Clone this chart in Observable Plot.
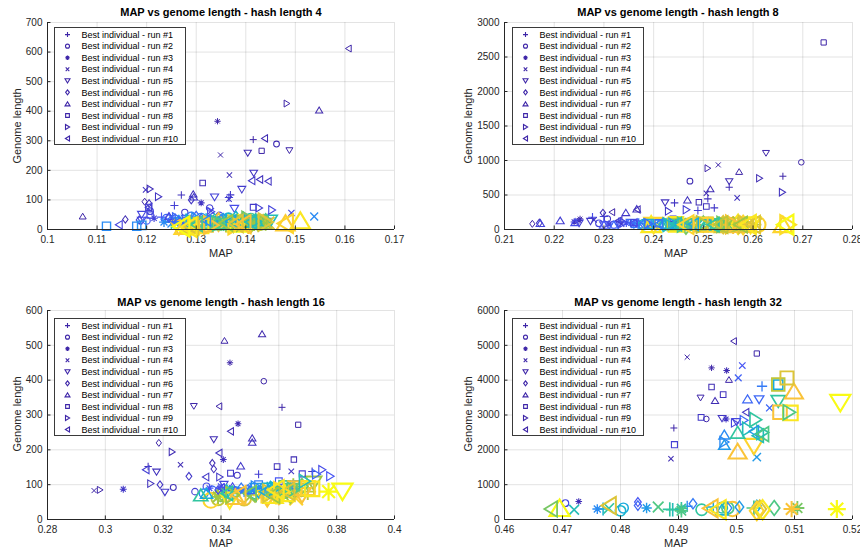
<!DOCTYPE html>
<html><head><meta charset="utf-8">
<script src="https://cdn.jsdelivr.net/npm/d3@7"></script>
<script src="https://cdn.jsdelivr.net/npm/@observablehq/plot@0.6"></script>
<style>
body{margin:0;background:#fff;}
#root{position:relative;width:860px;height:552px;overflow:hidden;font-family:"Liberation Sans",Arial,sans-serif;color:#262626;background:#fff;}
.panel{position:absolute;}
.t{position:absolute;transform:translate(-50%,-50%);white-space:nowrap;line-height:1;}
.title{font-weight:bold;font-size:11px;color:#000;}
.xl{font-size:11px;}
.yl{font-size:11px;transform:translate(-50%,-50%) rotate(-90deg);}
.leg{position:absolute;}
</style></head><body><div id="root"></div><script>
// ---------- data: [MAP, genome length, generation fraction] ----------
const titles = ["MAP vs genome length - hash length 4","MAP vs genome length - hash length 8","MAP vs genome length - hash length 16","MAP vs genome length - hash length 32"];
const legendLabels = ["Best individual - run #1","Best individual - run #2","Best individual - run #3","Best individual - run #4","Best individual - run #5","Best individual - run #6","Best individual - run #7","Best individual - run #8","Best individual - run #9","Best individual - run #10"];
const xTicks4 = [0.1,0.11,0.12,0.13,0.14,0.15,0.16,0.17];
const yTicks4 = [0,100,200,300,400,500,600,700];
const xTicks8 = [0.21,0.22,0.23,0.24,0.25,0.26,0.27,0.28];
const yTicks8 = [0,500,1000,1500,2000,2500,3000];
const xTicks16 = [0.28,0.3,0.32,0.34,0.36,0.38,0.4];
const yTicks16 = [0,100,200,300,400,500,600];
const xTicks32 = [0.46,0.47,0.48,0.49,0.5,0.51,0.52];
const yTicks32 = [0,1000,2000,3000,4000,5000,6000];

const h4_r1 = [[0.1415,304,0.0],[0.1270,117,0.04],[0.1256,81,0.08],[0.1369,117,0.06],[0.1366,108,0.1],[0.1230,42,0.15],[0.1445,38,0.2],[0.1300,30,0.3],[0.1280,35,0.35],[0.1335,28,0.4],[0.1395,40,0.45],[0.1385,22,0.5],[0.1250,25,0.55],[0.1420,30,0.65],[0.1330,20,0.7],[0.1360,18,0.75],[0.1405,15,0.85],[0.1290,12,0.95]];
const h4_r2 = [[0.1462,289,0.02],[0.1277,58,0.06],[0.1327,73,0.08],[0.1207,62,0.1],[0.1347,47,0.12],[0.1200,30,0.15],[0.1240,38,0.2],[0.1290,45,0.25],[0.1310,40,0.3],[0.1380,30,0.4],[0.1365,38,0.45],[0.1260,22,0.5],[0.1410,35,0.55],[0.1350,25,0.6],[0.1430,20,0.7],[0.1395,28,0.8],[0.1320,18,0.9]];
const h4_r3 = [[0.1343,366,0.0],[0.1310,90,0.05],[0.1215,38,0.1],[0.1255,30,0.2],[0.1265,28,0.25],[0.1235,25,0.3],[0.1280,20,0.4],[0.1320,35,0.45],[0.1340,30,0.5],[0.1400,25,0.6],[0.1425,30,0.65],[0.1440,20,0.7],[0.1300,15,0.8],[0.1375,18,0.9]];
const h4_r4 = [[0.1349,252,0.0],[0.1367,184,0.03],[0.1366,103,0.06],[0.1198,134,0.05],[0.1492,56,0.12],[0.1330,62,0.1],[0.1270,30,0.2],[0.1250,20,0.3],[0.1538,44,0.3],[0.1320,25,0.35],[0.1390,35,0.45],[0.1345,38,0.5],[0.1410,20,0.55],[0.1360,15,0.65],[0.1420,28,0.7],[0.1445,22,0.8],[0.1295,18,0.9]];
const h4_r5 = [[0.1488,267,0.0],[0.1404,258,0.02],[0.1416,190,0.05],[0.1392,135,0.07],[0.1337,109,0.09],[0.1377,70,0.12],[0.1190,50,0.1],[0.1190,30,0.12],[0.1280,35,0.2],[0.1325,28,0.3],[0.1400,30,0.4],[0.1310,25,0.45],[0.1450,30,0.5],[0.1355,20,0.55],[0.1425,25,0.65],[0.1375,15,0.75],[0.1265,8,0.85],[0.1305,10,0.95]];
const h4_r6 = [[0.1196,94,0.0],[0.1157,34,0.02],[0.1205,88,0.04],[0.1290,100,0.05],[0.1185,32,0.08],[0.1245,40,0.15],[0.1300,45,0.2],[0.1355,35,0.3],[0.1265,28,0.35],[0.1395,30,0.4],[0.1380,40,0.45],[0.1330,22,0.5],[0.1440,28,0.6],[0.1425,22,0.7],[0.1410,18,0.75],[0.1345,25,0.85]];
const h4_r7 = [[0.1071,45,0.0],[0.1548,404,0.01],[0.1294,120,0.04],[0.1295,110,0.06],[0.1245,45,0.1],[0.1310,40,0.2],[0.1350,35,0.3],[0.1380,28,0.4],[0.1420,32,0.5],[0.1360,22,0.6],[0.1330,25,0.6],[0.1400,20,0.7],[0.1435,25,0.75],[0.1290,15,0.8],[0.1480,22,0.88],[0.1275,10,0.9],[0.1510,30,0.95],[0.1385,20,1.0]];
const h4_r8 = [[0.1432,266,0.0],[0.1313,157,0.03],[0.1415,75,0.06],[0.1204,75,0.08],[0.1207,49,0.1],[0.1280,30,0.2],[0.1119,11,0.3],[0.1180,11,0.3],[0.1190,14,0.32],[0.1330,28,0.4],[0.1400,25,0.5],[0.1370,30,0.55],[0.1350,18,0.6],[0.1430,22,0.7],[0.1300,18,0.75],[0.1320,15,0.85],[0.1310,12,0.95]];
const h4_r9 = [[0.1483,426,0.0],[0.1207,137,0.03],[0.1224,111,0.05],[0.1427,73,0.08],[0.1453,66,0.1],[0.1330,60,0.12],[0.1260,40,0.2],[0.1300,38,0.3],[0.1370,30,0.4],[0.1290,28,0.45],[0.1420,28,0.5],[0.1345,20,0.6],[0.1405,35,0.65],[0.1395,22,0.7],[0.1440,25,0.8],[0.1330,15,0.85],[0.1380,15,0.9]];
const h4_r10 = [[0.1607,612,0.0],[0.1438,308,0.02],[0.1428,169,0.04],[0.1445,163,0.05],[0.1412,165,0.06],[0.1204,75,0.08],[0.1144,16,0.1],[0.1250,35,0.2],[0.1320,30,0.3],[0.1370,28,0.4],[0.1410,25,0.5],[0.1300,18,0.6],[0.1360,22,0.7],[0.1380,20,0.8],[0.1290,12,0.8],[0.1395,18,0.85],[0.1480,20,0.9],[0.1285,8,0.95],[0.1270,10,1.0]];

const h8_r1 = [[0.2660,772,0.0],[0.2552,613,0.02],[0.2509,444,0.04],[0.2522,313,0.06],[0.2489,275,0.08],[0.2442,386,0.05],[0.2300,188,0.1],[0.2277,178,0.12],[0.2330,110,0.15],[0.2370,90,0.25],[0.2400,85,0.3],[0.2450,80,0.4],[0.2520,75,0.55],[0.2540,80,0.6],[0.2480,70,0.7],[0.2600,70,0.75],[0.2560,65,0.85]];
const h8_r2 = [[0.2697,974,0.0],[0.2473,700,0.02],[0.2307,154,0.06],[0.2290,90,0.1],[0.2320,70,0.15],[0.2360,85,0.25],[0.2420,75,0.35],[0.2380,70,0.45],[0.2500,70,0.5],[0.2460,65,0.65],[0.2555,65,0.7],[0.2540,72,0.8],[0.2610,70,0.9]];
const h8_r3 = [[0.2252,154,0.0],[0.2250,130,0.03],[0.2240,110,0.05],[0.2310,80,0.1],[0.2345,95,0.15],[0.2360,80,0.25],[0.2390,80,0.3],[0.2440,70,0.45],[0.2450,75,0.55],[0.2510,75,0.6],[0.2470,68,0.75],[0.2530,70,0.8],[0.2580,70,0.9]];
const h8_r4 = [[0.2530,936,0.0],[0.2506,526,0.02],[0.2568,458,0.04],[0.2280,140,0.06],[0.2335,80,0.1],[0.2375,95,0.2],[0.2395,90,0.3],[0.2430,75,0.35],[0.2490,80,0.5],[0.2470,65,0.6],[0.2550,70,0.65],[0.2605,75,0.8],[0.2580,80,0.9]];
const h8_r5 = [[0.2626,1105,0.0],[0.2552,695,0.02],[0.2423,386,0.04],[0.2273,116,0.06],[0.2250,90,0.08],[0.2300,60,0.12],[0.2355,90,0.2],[0.2400,75,0.3],[0.2455,70,0.45],[0.2430,70,0.55],[0.2520,68,0.6],[0.2570,72,0.75],[0.2500,75,0.8],[0.2400,60,0.9],[0.2595,65,0.95]];
const h8_r6 = [[0.2156,82,0.0],[0.2298,241,0.02],[0.2170,95,0.04],[0.2330,85,0.1],[0.2380,80,0.2],[0.2460,60,0.35],[0.2420,70,0.45],[0.2510,70,0.5],[0.2465,45,0.65],[0.2500,80,0.65],[0.2540,70,0.8],[0.2580,65,0.9],[0.2570,75,0.95]];
const h8_r7 = [[0.2572,839,0.0],[0.2514,589,0.02],[0.2468,429,0.04],[0.2344,246,0.06],[0.2366,299,0.05],[0.2212,130,0.08],[0.2172,92,0.1],[0.2242,106,0.12],[0.2300,70,0.15],[0.2320,60,0.2],[0.2380,85,0.3],[0.2420,70,0.4],[0.2450,85,0.45],[0.2505,68,0.55],[0.2560,72,0.7],[0.2540,60,0.8],[0.2575,70,0.85],[0.2660,70,0.9],[0.2395,75,0.95]];
const h8_r8 = [[0.2742,2711,0.0],[0.2491,396,0.02],[0.2506,333,0.04],[0.2439,154,0.06],[0.2360,100,0.1],[0.2410,90,0.2],[0.2470,80,0.3],[0.2390,80,0.4],[0.2520,65,0.45],[0.2480,72,0.6],[0.2440,72,0.7],[0.2550,70,0.75],[0.2495,70,0.85],[0.2505,68,0.9],[0.2445,75,0.95]];
const h8_r9 = [[0.2509,888,0.0],[0.2613,743,0.02],[0.2659,540,0.04],[0.2430,265,0.06],[0.2466,285,0.08],[0.2340,100,0.12],[0.2390,85,0.2],[0.2440,80,0.35],[0.2430,70,0.5],[0.2460,70,0.6],[0.2540,75,0.65],[0.2500,72,0.75],[0.2585,70,0.8],[0.2560,75,0.85],[0.2670,70,0.92]];
const h8_r10 = [[0.2316,251,0.0],[0.2367,289,0.02],[0.2330,130,0.06],[0.2360,95,0.12],[0.2410,80,0.25],[0.2480,75,0.4],[0.2445,78,0.5],[0.2520,70,0.55],[0.2575,70,0.7],[0.2535,70,0.75],[0.2600,72,0.8],[0.2465,70,0.9],[0.2590,72,0.95],[0.2665,68,1.0]];

const h16_r1 = [[0.3611,322,0.0],[0.3148,152,0.03],[0.3715,138,0.06],[0.3530,130,0.08],[0.3400,90,0.15],[0.3480,80,0.3],[0.3560,90,0.45],[0.3440,75,0.55],[0.3620,85,0.6],[0.3650,95,0.7],[0.3700,80,0.75],[0.3590,70,0.9]];
const h16_r2 = [[0.3548,397,0.0],[0.3235,92,0.03],[0.3456,127,0.05],[0.3310,80,0.08],[0.3350,95,0.12],[0.3370,85,0.2],[0.3340,75,0.3],[0.3450,80,0.4],[0.3520,75,0.55],[0.3400,70,0.65],[0.3390,60,0.75],[0.3480,60,0.8],[0.3365,55,0.9]];
const h16_r3 = [[0.3431,450,0.0],[0.3459,275,0.02],[0.3408,172,0.04],[0.3062,87,0.06],[0.3360,90,0.15],[0.3430,85,0.3],[0.3500,80,0.45],[0.3580,75,0.6],[0.3390,65,0.7],[0.3660,80,0.8],[0.3540,70,0.9],[0.3772,80,1.0]];
const h16_r4 = [[0.2961,83,0.0],[0.3260,157,0.02],[0.3643,138,0.05],[0.3400,95,0.12],[0.3470,80,0.25],[0.3550,85,0.4],[0.3420,70,0.45],[0.3610,75,0.55],[0.3500,65,0.7],[0.3580,60,0.85],[0.3660,60,0.9]];
const h16_r5 = [[0.3306,325,0.0],[0.3375,229,0.02],[0.3177,136,0.04],[0.3206,78,0.06],[0.3410,100,0.1],[0.3460,80,0.2],[0.3520,90,0.35],[0.3590,75,0.5],[0.3650,85,0.6],[0.3720,105,0.7],[0.3680,70,0.85],[0.3560,60,0.9],[0.3430,55,0.95],[0.3820,80,1.0]];
const h16_r6 = [[0.3185,220,0.0],[0.3370,162,0.02],[0.3375,145,0.03],[0.3189,100,0.05],[0.3289,124,0.06],[0.3390,85,0.12],[0.3470,90,0.25],[0.3530,80,0.4],[0.3420,80,0.5],[0.3600,85,0.55],[0.3680,95,0.65],[0.3640,70,0.7],[0.3560,65,0.85]];
const h16_r7 = [[0.3412,514,0.0],[0.3542,533,0.01],[0.3508,234,0.03],[0.3508,222,0.04],[0.3468,154,0.06],[0.3440,95,0.12],[0.3500,85,0.2],[0.3570,95,0.35],[0.3350,75,0.4],[0.3330,70,0.55],[0.3600,80,0.7],[0.3450,65,0.85],[0.3620,75,0.95],[0.3580,70,0.95]];
const h16_r8 = [[0.3667,272,0.0],[0.3652,172,0.02],[0.3594,152,0.04],[0.3433,133,0.06],[0.3681,131,0.08],[0.3600,110,0.15],[0.3530,100,0.25],[0.3660,100,0.3],[0.3560,90,0.45],[0.3620,95,0.6],[0.3700,85,0.75],[0.3655,90,0.85],[0.3700,90,0.9],[0.3715,88,0.95]];
const h16_r9 = [[0.2982,85,0.0],[0.3231,194,0.02],[0.3157,103,0.04],[0.3396,122,0.06],[0.3750,143,0.12],[0.3778,124,0.15],[0.3730,130,0.2],[0.3520,95,0.3],[0.3590,90,0.45],[0.3690,110,0.5],[0.3650,85,0.6],[0.3440,70,0.7],[0.3570,75,0.8],[0.3610,80,0.92]];
const h16_r10 = [[0.3393,325,0.0],[0.3433,253,0.02],[0.3393,191,0.04],[0.3347,122,0.06],[0.3140,143,0.08],[0.3400,90,0.12],[0.3480,85,0.25],[0.3550,80,0.4],[0.3420,75,0.55],[0.3500,75,0.65],[0.3580,70,0.7],[0.3630,80,0.8],[0.3460,70,0.85],[0.3590,85,0.95]];

const h32_r1 = [[0.4892,2627,0.0],[0.5044,3825,0.25],[0.4915,380,0.3],[0.4960,360,0.4],[0.4770,300,0.45],[0.4890,280,0.5],[0.4885,290,0.55],[0.5030,330,0.6]];
const h32_r2 = [[0.4948,2886,0.0],[0.4705,470,0.1],[0.4805,330,0.4],[0.4800,250,0.45],[0.4975,340,0.5],[0.4940,280,0.55],[0.4985,330,0.6],[0.4993,300,0.85]];
const h32_r3 = [[0.4957,4353,0.0],[0.4983,4276,0.02],[0.4728,518,0.03],[0.4982,2886,0.05],[0.4760,300,0.3],[0.4845,330,0.35],[0.4905,320,0.55],[0.4905,250,0.6],[0.5105,330,0.65],[0.5095,300,0.85],[0.5173,300,1.0]];
const h32_r4 = [[0.4915,4660,0.0],[0.4887,1745,0.02],[0.5010,4420,0.15],[0.5003,4065,0.18],[0.5057,3202,0.2],[0.5035,1793,0.35],[0.4720,280,0.5],[0.4780,320,0.55],[0.4865,360,0.6]];
const h32_r5 = [[0.4938,3490,0.0],[0.4975,2900,0.05],[0.5000,2800,0.1],[0.5039,3442,0.2],[0.5072,3394,0.55],[0.5030,2100,0.9],[0.5179,3346,1.0]];
const h32_r6 = [[0.4830,500,0.15],[0.4830,400,0.2],[0.4925,450,0.25],[0.4985,330,0.3],[0.5005,360,0.35],[0.5035,380,0.4],[0.5065,330,0.6],[0.5040,300,0.8],[0.5035,250,0.9],[0.5045,280,0.95]];
const h32_r7 = [[0.4987,4017,0.0],[0.4963,3413,0.02],[0.5019,3461,0.2],[0.4979,2435,0.3],[0.4979,2148,0.35],[0.4975,280,0.45],[0.5002,2500,0.55],[0.5002,1956,0.85],[0.5099,3682,0.85],[0.4695,330,1.0]];
const h32_r8 = [[0.5035,4765,0.0],[0.4957,3806,0.02],[0.4977,3586,0.04],[0.4939,2933,0.06],[0.4893,2148,0.08],[0.5072,3873,0.4],[0.5072,3873,0.75],[0.5087,4065,0.8],[0.5075,3078,0.85],[0.5093,3059,0.95]];
const h32_r9 = [[0.4997,2771,0.1],[0.5013,2848,0.2],[0.4979,2224,0.3],[0.5020,2600,0.5],[0.5033,2867,0.55],[0.5045,2500,0.55],[0.5091,3078,0.6]];
const h32_r10 = [[0.4995,5120,0.0],[0.5016,3078,0.05],[0.5030,2531,0.35],[0.5037,2407,0.5],[0.5045,2450,0.6],[0.4680,300,0.65],[0.4780,400,0.8],[0.4955,320,0.85],[0.4968,280,0.95]];

// ---------- style ----------
const parula = ["#3E26A8","#4852F4","#2D87F7","#12B1D6","#37C897","#ABC739","#FEC338","#F9FB15"];
const ink = "#262626";

const sym = fn => ({draw(ctx, size){ const r = Math.sqrt(size/Math.PI); fn(ctx, r); }});
const shapes = [
  sym((c,r)=>{c.moveTo(-r,0);c.lineTo(r,0);c.moveTo(0,-r);c.lineTo(0,r);}),
  sym((c,r)=>{const a=0.8*r;c.moveTo(a,0);c.arc(0,0,a,0,2*Math.PI);}),
  sym((c,r)=>{const a=0.9*r,b=a*Math.SQRT1_2;c.moveTo(-a,0);c.lineTo(a,0);c.moveTo(0,-a);c.lineTo(0,a);c.moveTo(-b,-b);c.lineTo(b,b);c.moveTo(-b,b);c.lineTo(b,-b);}),
  sym((c,r)=>{const k=0.72*r;c.moveTo(-k,-k);c.lineTo(k,k);c.moveTo(-k,k);c.lineTo(k,-k);}),
  sym((c,r)=>{c.moveTo(-r,-0.8*r);c.lineTo(r,-0.8*r);c.lineTo(0,0.85*r);c.closePath();}),
  sym((c,r)=>{c.moveTo(0,-r);c.lineTo(0.75*r,0);c.lineTo(0,r);c.lineTo(-0.75*r,0);c.closePath();}),
  sym((c,r)=>{c.moveTo(0,-0.85*r);c.lineTo(r,0.8*r);c.lineTo(-r,0.8*r);c.closePath();}),
  sym((c,r)=>{const s=0.75*r;c.moveTo(-s,-s);c.lineTo(s,-s);c.lineTo(s,s);c.lineTo(-s,s);c.closePath();}),
  sym((c,r)=>{c.moveTo(-0.8*r,-r);c.lineTo(0.85*r,0);c.lineTo(-0.8*r,r);c.closePath();}),
  sym((c,r)=>{c.moveTo(0.8*r,-r);c.lineTo(-0.85*r,0);c.lineTo(0.8*r,r);c.closePath();})
];

const panels = [
  {left:0,top:0,ml:47,mr:36,mt:22,mb:47,xd:[0.1,0.17],yd:[0,700],xt:xTicks4,yt:yTicks4,
   runs:[h4_r1,h4_r2,h4_r3,h4_r4,h4_r5,h4_r6,h4_r7,h4_r8,h4_r9,h4_r10],title:titles[0],
   tp:[221,12],xp:[221,253],yp:[17,126],lg:[54,27]},
  {left:430,top:0,ml:74,mr:8,mt:22,mb:47,xd:[0.21,0.28],yd:[0,3000],xt:xTicks8,yt:yTicks8,
   runs:[h8_r1,h8_r2,h8_r3,h8_r4,h8_r5,h8_r6,h8_r7,h8_r8,h8_r9,h8_r10],title:titles[1],
   tp:[678,12],xp:[676,253],yp:[468,126],lg:[512,27]},
  {left:0,top:276,ml:47,mr:36,mt:34,mb:33,xd:[0.28,0.4],yd:[0,600],xt:xTicks16,yt:yTicks16,
   runs:[h16_r1,h16_r2,h16_r3,h16_r4,h16_r5,h16_r6,h16_r7,h16_r8,h16_r9,h16_r10],title:titles[2],
   tp:[221,302],xp:[221,543],yp:[17,414],lg:[54,318]},
  {left:430,top:276,ml:74,mr:8,mt:34,mb:33,xd:[0.46,0.52],yd:[0,6000],xt:xTicks32,yt:yTicks32,
   runs:[h32_r1,h32_r2,h32_r3,h32_r4,h32_r5,h32_r6,h32_r7,h32_r8,h32_r9,h32_r10],title:titles[3],
   tp:[678,302],xp:[676,543],yp:[468,414],lg:[512,318]}
];

const root = document.getElementById("root");
const fmtX = d => String(+d.toFixed(2));

for (const p of panels) {
  const [x0,x1] = p.xd, [y0,y1] = p.yd;
  const marks = [
    Plot.gridX(p.xt, {stroke: ink, strokeOpacity: 0.13, strokeWidth: 1}),
    Plot.gridY(p.yt, {stroke: ink, strokeOpacity: 0.13, strokeWidth: 1}),
    Plot.axisX(p.xt, {tickSize: 0, tickPadding: 6, tickFormat: fmtX, label: null, fill: ink}),
    Plot.axisY(p.yt, {tickSize: 0, tickPadding: 5, tickFormat: d => String(d), label: null, fill: ink}),
  ];
  p.runs.forEach((data, k) => {
    marks.push(Plot.dot(data, {
      x: d => d[0], y: d => d[1], r: d => d[2], stroke: d => d[2],
      strokeWidth: d => 1 + 1.2*d[2], fill: "none", symbol: shapes[k], sort: null
    }));
  });
  marks.push(
    Plot.ruleX(p.xt, {y1: y0, y2: y0 + (y1-y0)*0.017, stroke: ink}),
    Plot.ruleY(p.yt, {x1: x0, x2: x0 + (x1-x0)*0.01, stroke: ink}),
    Plot.ruleX([x0], {stroke: ink}),
    Plot.ruleY([y0], {stroke: ink})
  );
  const chart = Plot.plot({
    width: 430, height: 276,
    marginLeft: p.ml, marginRight: p.mr, marginTop: p.mt, marginBottom: p.mb,
    x: {domain: p.xd}, y: {domain: p.yd},
    color: {type: "linear", domain: [0,1], interpolate: d3.piecewise(d3.interpolateRgb, parula)},
    r: {type: "linear", domain: [0,1], range: [3.5, 10]},
    style: {fontFamily: "'Liberation Sans', Arial, sans-serif", fontSize: "10px", color: ink, background: "transparent", overflow: "visible"},
    marks
  });
  const wrap = document.createElement("div");
  wrap.className = "panel";
  wrap.style.left = p.left + "px"; wrap.style.top = p.top + "px";
  wrap.appendChild(chart);
  root.appendChild(wrap);

  const addText = (cls, txt, pos) => {
    const el = document.createElement("div");
    el.className = "t " + cls; el.textContent = txt;
    el.style.left = pos[0] + "px"; el.style.top = pos[1] + "px";
    root.appendChild(el);
  };
  addText("title", p.title, p.tp);
  addText("xl", "MAP", p.xp);
  addText("yl", "Genome length", p.yp);

  // legend
  const W = 132, H = 118;
  const svg = d3.create("svg").attr("class","leg").attr("width", W).attr("height", H)
    .style("left", p.lg[0] + "px").style("top", p.lg[1] + "px");
  svg.append("rect").attr("x",0.5).attr("y",0.5).attr("width",W-1).attr("height",H-1)
    .attr("fill","#fff").attr("stroke","#3a3a3a").attr("stroke-width",1);
  legendLabels.forEach((lab, i) => {
    const cy = 7.6 + i*11.55;
    svg.append("path").attr("transform", `translate(13.5,${cy})`)
      .attr("d", d3.symbol(shapes[i], Math.PI*2.5*2.5)())
      .attr("fill","none").attr("stroke", parula[0]).attr("stroke-width", 1.1);
    svg.append("text").attr("x", 27.5).attr("y", cy).attr("dy","0.35em")
      .attr("font-size", 9).attr("fill", "#000")
      .attr("font-family","'Liberation Sans', Arial, sans-serif").text(lab);
  });
  root.appendChild(svg.node());
}
</script></body></html>
